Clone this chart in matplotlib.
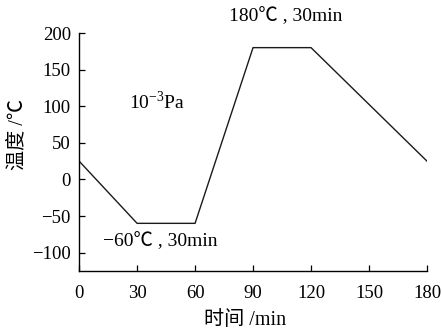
import matplotlib
matplotlib.use("Agg")
import matplotlib.pyplot as plt

# temperature program: time (min) vs temperature (°C)
time_min = [0, 30, 60, 90, 120, 180]
temp_c = [25, -60, -60, 180, 180, 25]
xticks = [0, 30, 60, 90, 120, 150, 180]
yticks = [-100, -50, 0, 50, 100, 150, 200]

FAM = ["Liberation Serif", "Noto Sans CJK SC", "DejaVu Sans"]
plt.rcParams["font.family"] = FAM
plt.rcParams["mathtext.fontset"] = "custom"
plt.rcParams["mathtext.rm"] = "Liberation Serif"
plt.rcParams["axes.unicode_minus"] = True

fig = plt.figure(figsize=(4.42, 3.30), dpi=100)
ax = fig.add_axes([0.179, 0.179, 0.787, 0.721])

ax.plot(time_min, temp_c, color="#1a1a1a", lw=1.0)

ax.set_xlim(0, 180)
ax.set_ylim(-125, 200)
ax.set_xticks(xticks)
ax.set_yticks(yticks)
ax.tick_params(direction="in", length=4, width=0.9, labelsize=13.5, pad=6)
ax.tick_params(axis="x", pad=10)
for s in ("top", "right"):
    ax.spines[s].set_visible(False)
for s in ("left", "bottom"):
    ax.spines[s].set_linewidth(1.0)

ax.set_xlabel("时间 /min", fontsize=14.5)
ax.xaxis.set_label_coords(0.478, -0.17)
ax.set_ylabel("温度 /℃", fontsize=14.5)
ax.yaxis.set_label_coords(-0.15, 0.575)

ax.text(26, 106, r"10$^{-3}$Pa", fontsize=14, va="center", ha="left")
ax.text(107, 223, "180℃ , 30min", fontsize=14, va="center", ha="center")
ax.text(42, -85, "−60℃ , 30min", fontsize=14, va="center", ha="center")

fig.savefig("out.png", dpi=100)
